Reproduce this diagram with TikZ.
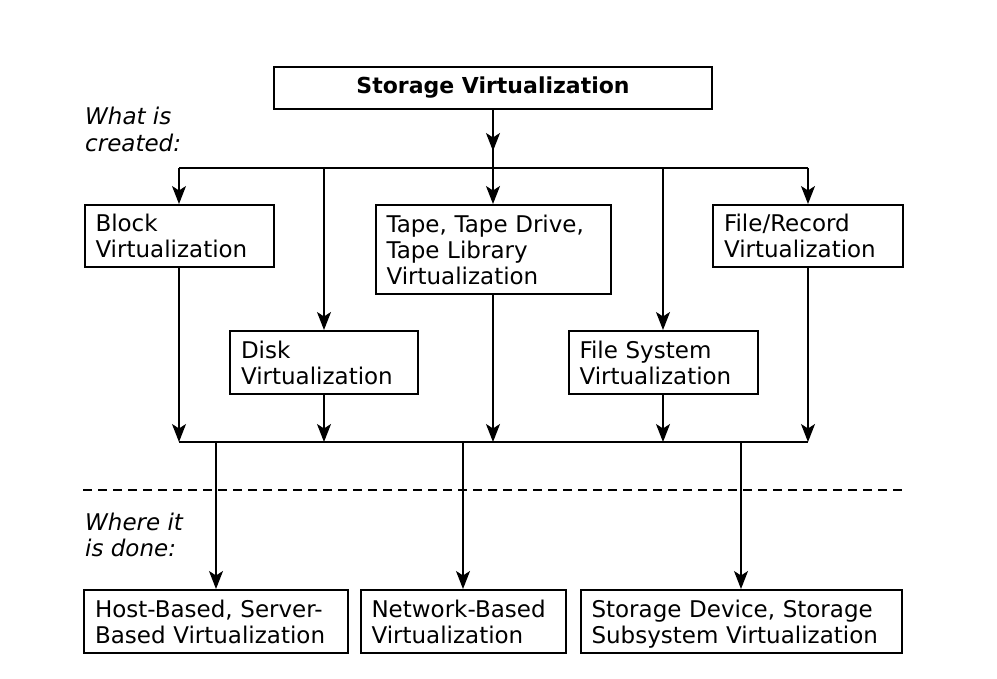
\documentclass[tikz,border=0pt]{standalone}
\usepackage{fontspec}
\setmainfont{DejaVu Sans}[ItalicFont={DejaVu Sans Oblique},BoldFont={DejaVu Sans Bold}]
\usetikzlibrary{arrows.meta}
\tikzset{
  box/.style={draw, line width=2pt, inner xsep=11pt, inner ysep=0pt, align=left,
    text height=22.5pt, execute at end node=\vphantom{y},
    font=\fontsize{23}{26}\selectfont},
  headbox/.style={draw, line width=2pt, minimum width=438pt, minimum height=42pt,
    font=\fontsize{22}{26}\selectfont\bfseries},
  note/.style={anchor=north west, inner sep=0pt, align=left,
    font=\fontsize{23}{26.5}\selectfont\itshape},
  wire/.style={line width=1.4pt},
  arr/.style={wire, -{Stealth[length=18pt,width=14pt,inset=4.5pt]}},
}
\begin{document}
\begin{tikzpicture}[x=1pt,y=-1pt]
  \useasboundingbox (0,0) rectangle (997,679);
  \draw
    (493,88) node[headbox] (sv) {Storage Virtualization}
    (179,236) node[box, text width=167pt, minimum height=62pt] (block) {Block\\Virtualization}
    (493,249.5) node[box, text width=213pt, minimum height=89pt] (tape) {Tape, Tape Drive,\\Tape Library\\Virtualization}
    (808,236) node[box, text width=168pt, minimum height=62pt] (filerec) {File/Record\\Virtualization}
    (324,362.5) node[box, text width=166pt, minimum height=63pt] (disk) {Disk\\Virtualization}
    (663,362.5) node[box, text width=167pt, minimum height=63pt] (filesys) {File System\\Virtualization}
    (216,621.5) node[box, text width=242pt, minimum height=63pt] (host) {Host-Based, Server-\\Based Virtualization}
    (463,621.5) node[box, text width=183pt, minimum height=63pt] (network) {Network-Based\\Virtualization}
    (741,621.5) node[box, text width=299pt, minimum height=63pt] (device) {Storage Device, Storage\\Subsystem Virtualization};
  \node[note] (created) at (85,107) {What is\\created:};
  \node[note] (done) at (85,512.5) {Where it\\is done:};
  \coordinate (top) at (493,168);
  \coordinate (bottom) at (493,442);
  % buses
  \begin{scope}[wire]
    \draw (sv.south) -- (sv |- top);
    \draw (block |- top) -- (filerec |- top);
    \draw (block |- bottom) -- (filerec |- bottom);
    \draw[line width=2pt, dash pattern=on 9pt off 6pt] (host.west |- 0,490) -- (device.east |- 0,490);
  \end{scope}
  % arrows
  \begin{scope}[arr]
    \draw (sv.south) -- ++(0,41);
    \draw (block |- top) -- (block);
    \draw (disk |- top) -- (disk);
    \draw (tape |- top) -- (tape);
    \draw (filesys |- top) -- (filesys);
    \draw (filerec |- top) -- (filerec);
    \draw (block) -- (block |- bottom);
    \draw (disk) -- (disk |- bottom);
    \draw (tape) -- (tape |- bottom);
    \draw (filesys) -- (filesys |- bottom);
    \draw (filerec) -- (filerec |- bottom);
    \draw (host |- bottom) -- (host);
    \draw (network |- bottom) -- (network);
    \draw (device |- bottom) -- (device);
  \end{scope}
\end{tikzpicture}
\end{document}
